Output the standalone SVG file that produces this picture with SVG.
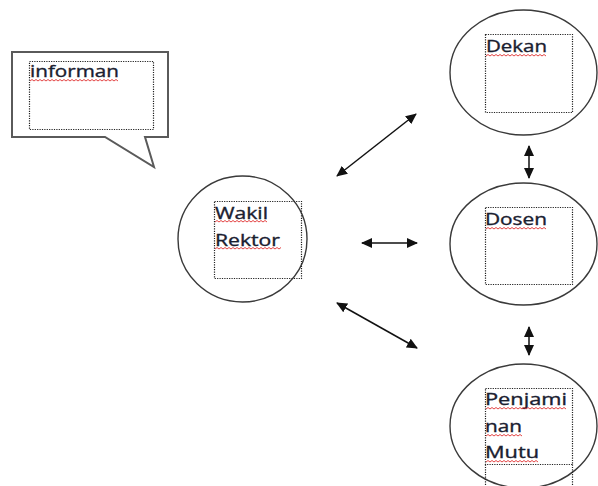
<svg xmlns="http://www.w3.org/2000/svg" width="598" height="486" viewBox="0 0 598 486">
<defs>
<style>
.ell{fill:#fff;stroke:#3a3a3a;stroke-width:1.4}
.box{fill:none;stroke:#222;stroke-width:1.2;stroke-dasharray:1.2 1.2}
.txt{font-family:"Open Sans","Liberation Sans",sans-serif;font-size:16.5px;fill:#1a2030;stroke:#1a2030;stroke-width:0.35}
.sq{fill:none;stroke:#e03030;stroke-width:0.9}
.con{stroke:#111;stroke-width:1.5;fill:none;marker-start:url(#ah);marker-end:url(#ah)}
</style>
<marker id="ah" viewBox="0 0 11 10" refX="10" refY="5" markerWidth="11" markerHeight="10" markerUnits="userSpaceOnUse" orient="auto-start-reverse">
<path d="M0,0 L11,5 L0,10 Z" fill="#111"/>
</marker>
</defs>
<rect width="598" height="486" fill="#fff"/>
<g id="informan">
<path d="M12,52 H168 V137 H145 L154,167 L105,137 H12 Z" fill="#fff" stroke="#5a5a5a" stroke-width="2" stroke-linejoin="miter"/>
<rect class="box" x="29.5" y="61.5" width="124" height="68"/>
<text class="txt" x="30" y="77" textLength="89" lengthAdjust="spacingAndGlyphs">informan</text>
<path class="sq" d="M30,81 l2,-1.5 l2,1.5 l2,-1.5 l2,1.5 l2,-1.5 l2,1.5 l2,-1.5 l2,1.5 l2,-1.5 l2,1.5 l2,-1.5 l2,1.5 l2,-1.5 l2,1.5 l2,-1.5 l2,1.5 l2,-1.5 l2,1.5 l2,-1.5 l2,1.5 l2,-1.5 l2,1.5 l2,-1.5 l2,1.5 l2,-1.5 l2,1.5 l2,-1.5 l2,1.5 l2,-1.5 l2,1.5 l2,-1.5 l2,1.5 l2,-1.5 l2,1.5 l2,-1.5 l2,1.5 l2,-1.5 l2,1.5 l2,-1.5 l2,1.5 l2,-1.5 l2,1.5 l2,-1.5 l2,1.5"/>
</g>
<g id="wakil-rektor">
<ellipse class="ell" cx="242.5" cy="239" rx="64.5" ry="63"/>
<rect class="box" x="214.5" y="201.5" width="87" height="77"/>
<text class="txt" x="215" y="219" textLength="53" lengthAdjust="spacingAndGlyphs">Wakil</text>
<text class="txt" x="215" y="246" textLength="65" lengthAdjust="spacingAndGlyphs">Rektor</text>
<path class="sq" d="M215,222 l2,-1.5 l2,1.5 l2,-1.5 l2,1.5 l2,-1.5 l2,1.5 l2,-1.5 l2,1.5 l2,-1.5 l2,1.5 l2,-1.5 l2,1.5 l2,-1.5 l2,1.5 l2,-1.5 l2,1.5 l2,-1.5 l2,1.5 l2,-1.5 l2,1.5 l2,-1.5 l2,1.5 l2,-1.5 l2,1.5 l2,-1.5 l2,1.5"/>
<path class="sq" d="M215,249 l2,-1.5 l2,1.5 l2,-1.5 l2,1.5 l2,-1.5 l2,1.5 l2,-1.5 l2,1.5 l2,-1.5 l2,1.5 l2,-1.5 l2,1.5 l2,-1.5 l2,1.5 l2,-1.5 l2,1.5 l2,-1.5 l2,1.5 l2,-1.5 l2,1.5 l2,-1.5 l2,1.5 l2,-1.5 l2,1.5 l2,-1.5 l2,1.5 l2,-1.5 l2,1.5 l2,-1.5 l2,1.5 l2,-1.5 l2,1.5 l2,-1.5"/>
</g>
<g id="dekan">
<ellipse class="ell" cx="523.5" cy="72.5" rx="73.5" ry="62.5"/>
<rect class="box" x="485.5" y="34.5" width="87" height="78"/>
<text class="txt" x="486" y="52" textLength="61" lengthAdjust="spacingAndGlyphs">Dekan</text>
<path class="sq" d="M486,56 l2,-1.5 l2,1.5 l2,-1.5 l2,1.5 l2,-1.5 l2,1.5 l2,-1.5 l2,1.5 l2,-1.5 l2,1.5 l2,-1.5 l2,1.5 l2,-1.5 l2,1.5 l2,-1.5 l2,1.5 l2,-1.5 l2,1.5 l2,-1.5 l2,1.5 l2,-1.5 l2,1.5 l2,-1.5 l2,1.5 l2,-1.5 l2,1.5 l2,-1.5 l2,1.5 l2,-1.5 l2,1.5"/>
</g>
<g id="dosen">
<ellipse class="ell" cx="523.5" cy="244" rx="73.5" ry="61"/>
<rect class="box" x="485.5" y="207.5" width="87" height="77"/>
<text class="txt" x="485" y="225" textLength="62" lengthAdjust="spacingAndGlyphs">Dosen</text>
<path class="sq" d="M486,229 l2,-1.5 l2,1.5 l2,-1.5 l2,1.5 l2,-1.5 l2,1.5 l2,-1.5 l2,1.5 l2,-1.5 l2,1.5 l2,-1.5 l2,1.5 l2,-1.5 l2,1.5 l2,-1.5 l2,1.5 l2,-1.5 l2,1.5 l2,-1.5 l2,1.5 l2,-1.5 l2,1.5 l2,-1.5 l2,1.5 l2,-1.5 l2,1.5 l2,-1.5 l2,1.5 l2,-1.5 l2,1.5"/>
</g>
<g id="penjaminan-mutu">
<ellipse class="ell" cx="523.5" cy="426" rx="73.5" ry="62"/>
<rect class="box" x="485.5" y="388.5" width="87" height="76"/>
<path class="box" d="M485.5,464.5 V486 M572.5,464.5 V486"/>
<text class="txt" x="485" y="405" textLength="82" lengthAdjust="spacingAndGlyphs">Penjami</text>
<text class="txt" x="485" y="432" textLength="37" lengthAdjust="spacingAndGlyphs">nan</text>
<text class="txt" x="485" y="458" textLength="54" lengthAdjust="spacingAndGlyphs">Mutu</text>
<path class="sq" d="M486,409 l2,-1.5 l2,1.5 l2,-1.5 l2,1.5 l2,-1.5 l2,1.5 l2,-1.5 l2,1.5 l2,-1.5 l2,1.5 l2,-1.5 l2,1.5 l2,-1.5 l2,1.5 l2,-1.5 l2,1.5 l2,-1.5 l2,1.5 l2,-1.5 l2,1.5 l2,-1.5 l2,1.5 l2,-1.5 l2,1.5 l2,-1.5 l2,1.5 l2,-1.5 l2,1.5 l2,-1.5 l2,1.5 l2,-1.5 l2,1.5 l2,-1.5 l2,1.5 l2,-1.5 l2,1.5 l2,-1.5 l2,1.5 l2,-1.5 l2,1.5"/>
<path class="sq" d="M486,436 l2,-1.5 l2,1.5 l2,-1.5 l2,1.5 l2,-1.5 l2,1.5 l2,-1.5 l2,1.5 l2,-1.5 l2,1.5 l2,-1.5 l2,1.5 l2,-1.5 l2,1.5 l2,-1.5 l2,1.5 l2,-1.5 l2,1.5"/>
<path class="sq" d="M486,462 l2,-1.5 l2,1.5 l2,-1.5 l2,1.5 l2,-1.5 l2,1.5 l2,-1.5 l2,1.5 l2,-1.5 l2,1.5 l2,-1.5 l2,1.5 l2,-1.5 l2,1.5 l2,-1.5 l2,1.5 l2,-1.5 l2,1.5 l2,-1.5 l2,1.5 l2,-1.5 l2,1.5 l2,-1.5 l2,1.5 l2,-1.5 l2,1.5"/>
</g>
<g id="connectors">
<line class="con" x1="337" y1="176" x2="416" y2="114"/>
<line class="con" x1="362" y1="243" x2="417" y2="243"/>
<line class="con" x1="337" y1="303" x2="417" y2="348"/>
<line class="con" x1="529" y1="146" x2="529" y2="178"/>
<line class="con" x1="529" y1="327" x2="529" y2="355"/>
</g>
</svg>
